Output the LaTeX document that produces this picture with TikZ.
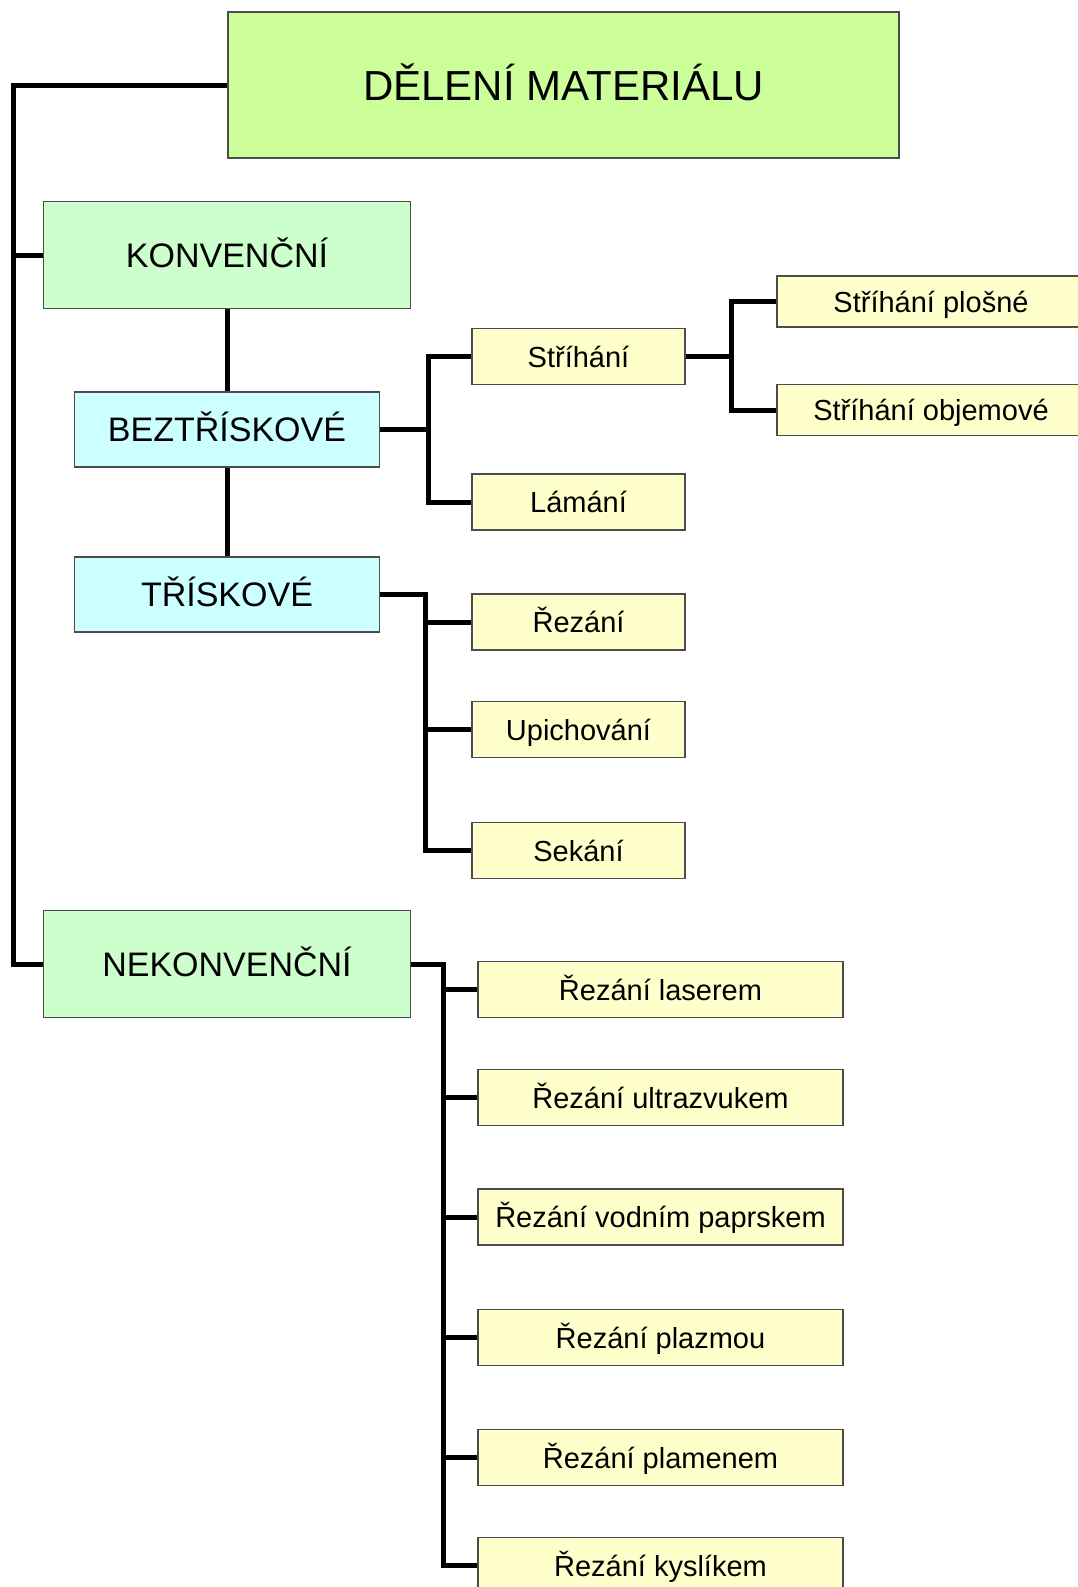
\documentclass[tikz,border=0pt]{standalone}
\usepackage{fontspec}
\setmainfont{Liberation Sans}
\definecolor{titlefill}{HTML}{CCFF99}
\definecolor{greenfill}{HTML}{CCFFCC}
\definecolor{cyanfill}{HTML}{CCFFFF}
\definecolor{yellowfill}{HTML}{FFFFCC}
\begin{document}
\begin{tikzpicture}[x=1pt,y=-1pt,
  basebox/.style={draw=black!70, line width=1.2pt, inner sep=0pt, anchor=center, text=black, text depth=0pt},
  titlebox/.style={basebox, fill=titlefill, minimum width=671pt, minimum height=146pt, text height=30pt, font=\fontsize{42}{50}\selectfont},
  greenbox/.style={basebox, fill=greenfill, minimum width=367pt, minimum height=107pt, text height=24.5pt, font=\fontsize{34}{40}\selectfont},
  cyanbox/.style={basebox, fill=cyanfill, minimum width=305pt, minimum height=75pt, text height=24.5pt, font=\fontsize{34}{40}\selectfont},
  leafbox/.style={basebox, fill=yellowfill, minimum width=213pt, minimum height=56pt, text height=21pt, font=\fontsize{29}{34}\selectfont},
  wideleaf/.style={basebox, fill=yellowfill, minimum width=365pt, minimum height=56pt, text height=21pt, font=\fontsize{29}{34}\selectfont},
  rightleaf/.style={basebox, fill=yellowfill, minimum width=308pt, minimum height=51pt, text height=21pt, font=\fontsize{29}{34}\selectfont},
  conn/.style={line width=5pt, draw=black}]
\useasboundingbox (0,0) rectangle (1078,1587);
\fill[white] (0,0) rectangle (1078,1587);

% nodes
\node[titlebox] (title) at (563.5,85) {DĚLENÍ MATERIÁLU};
\node[greenbox] (konv) at (227,255) {KONVENČNÍ};
\node[cyanbox] (bez) at (227,429.5) {BEZTŘÍSKOVÉ};
\node[cyanbox] (tri) at (227,594.5) {TŘÍSKOVÉ};
\node[greenbox] (nekonv) at (227,964) {NEKONVENČNÍ};

\node[leafbox] (strihani) at (578.5,356.5) {Stříhání};
\node[leafbox] (lamani) at (578.5,502) {Lámání};
\node[rightleaf] (plosne) at (931,301.5) {Stříhání plošné};
\node[rightleaf] (objemove) at (931,410) {Stříhání objemové};

\node[leafbox] (rezani) at (578.5,622) {Řezání};
\node[leafbox] (upich) at (578.5,729.5) {Upichování};
\node[leafbox] (sekani) at (578.5,850.5) {Sekání};

\node[wideleaf] (laser) at (660.5,989.5) {Řezání laserem};
\node[wideleaf] (ultra) at (660.5,1097.5) {Řezání ultrazvukem};
\node[wideleaf] (vodni) at (660.5,1217) {Řezání vodním paprskem};
\node[wideleaf] (plazma) at (660.5,1337.5) {Řezání plazmou};
\node[wideleaf] (plamen) at (660.5,1457.5) {Řezání plamenem};
\node[wideleaf] (kyslik) at (660.5,1565.5) {Řezání kyslíkem};

% trunk coordinates
\coordinate (tmain) at (13,0);
\coordinate (tbez) at (428,0);
\coordinate (tstr) at (731,0);
\coordinate (ttri) at (425,0);
\coordinate (tnek) at (443,0);

% connectors
\draw[conn] (title.west) -- (title.west -| tmain) |- (nekonv.west);
\draw[conn] (tmain |- konv.west) -- (konv.west);
\draw[conn] (konv.south) -- (bez.north);
\draw[conn] (bez.south) -- (tri.north);

\draw[conn] (bez.east) -- (bez.east -| tbez) |- (strihani.west);
\draw[conn] (bez.east -| tbez) |- (lamani.west);

\draw[conn] (strihani.east) -- (strihani.east -| tstr) |- (plosne.west);
\draw[conn] (strihani.east -| tstr) |- (objemove.west);

\draw[conn] (tri.east) -- (tri.east -| ttri) |- (sekani.west);
\draw[conn] (ttri |- rezani.west) -- (rezani.west);
\draw[conn] (ttri |- upich.west) -- (upich.west);

\draw[conn] (nekonv.east) -- (nekonv.east -| tnek) |- (kyslik.west);
\draw[conn] (tnek |- laser.west) -- (laser.west);
\draw[conn] (tnek |- ultra.west) -- (ultra.west);
\draw[conn] (tnek |- vodni.west) -- (vodni.west);
\draw[conn] (tnek |- plazma.west) -- (plazma.west);
\draw[conn] (tnek |- plamen.west) -- (plamen.west);
\end{tikzpicture}
\end{document}
